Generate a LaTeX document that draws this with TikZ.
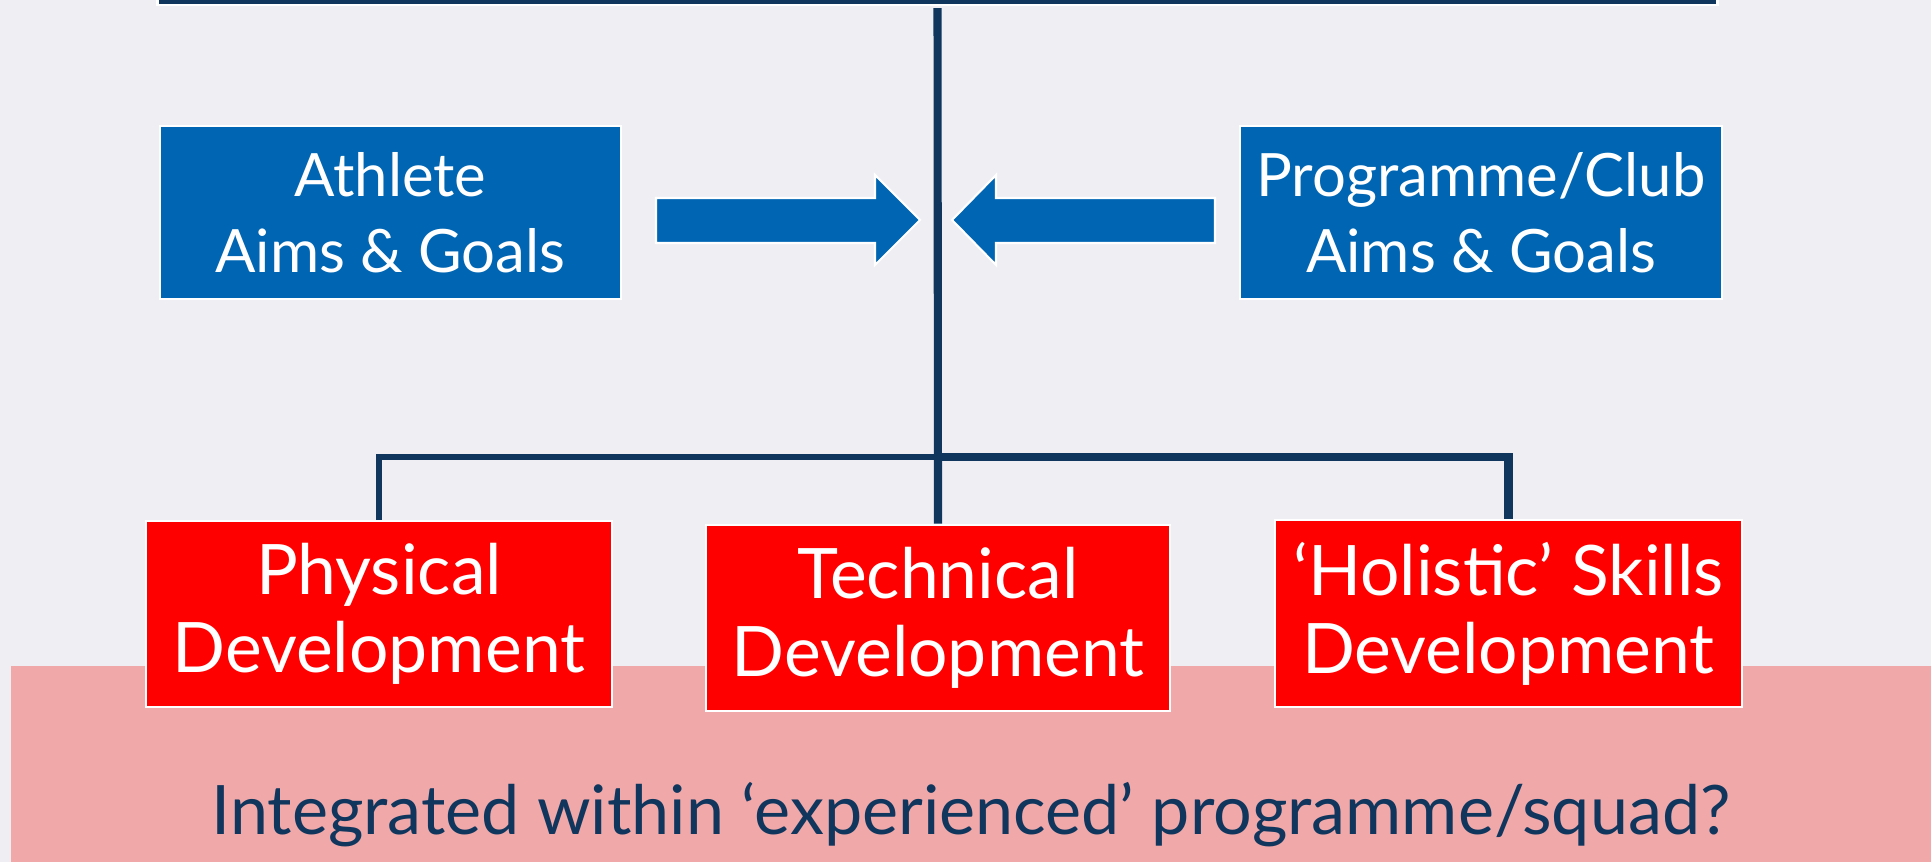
\documentclass[tikz,border=0pt]{standalone}
\usepackage{fontspec}
\setmainfont{Lato}
\usepackage{tikz}

\definecolor{navy}{RGB}{16,54,94}
\definecolor{aimblue}{RGB}{0,102,179}
\definecolor{devred}{RGB}{255,0,0}
\definecolor{bandpink}{RGB}{240,168,168}
\definecolor{paper}{RGB}{239,238,243}

\begin{document}
\begin{tikzpicture}[x=0.01cm,y=-0.01cm,
	aim/.style={fill=aimblue,draw=white,line width=0.6pt,text=white,align=center,
		inner sep=0pt,font=\fontsize{17}{21.6}\selectfont},
	dev/.style={fill=devred,draw=white,line width=0.7pt,text=white,align=center,
		inner sep=0pt,font=\fontsize{19.8}{22.2}\selectfont},
	link/.style={navy,line width=1.7pt},
	trunk/.style={navy,line width=2.3pt},
	blockarrow/.style={fill=aimblue,draw=white,line width=0.6pt}]
			% page and band
			\fill[paper] (0,0) rectangle (1931,862);
			\useasboundingbox (0,0) rectangle (1931,862);
			\fill[bandpink] (11,666) rectangle (1931,862);
			\node[fill=navy,draw=white,line width=0.6pt,minimum width=15.59cm,minimum height=0.16cm,inner sep=0pt] (top) at (937.5,-3) {};
			% aims
			\node[aim,minimum width=4.61cm,minimum height=1.73cm] (athlete) at (390.5,212.5) {Athlete\\Aims \& Goals};
			\node[aim,minimum width=4.82cm,minimum height=1.73cm] (club) at (1481,212.5) {Programme/Club\\Aims \& Goals};
			\draw[blockarrow] (656,198) -- (875,198) -- (875,175) -- (920,220) -- (875,265) -- (875,243) -- (656,243) -- cycle;
			\draw[blockarrow] (1215,198) -- (996,198) -- (996,175) -- (952,220) -- (996,265) -- (996,243) -- (1215,243) -- cycle;
			% development boxes
			\node[dev,minimum width=4.66cm,minimum height=1.86cm] (phys) at (379,614) {Physical\\Development};
			\node[dev,minimum width=4.64cm,minimum height=1.86cm] (tech) at (938,618) {Technical\\Development};
			\node[dev,minimum width=4.67cm,minimum height=1.87cm] (holi) at (1508.5,613.5) {`Holistic' Skills\\Development};
			\coordinate (bus) at (938,457);
			\draw[trunk] ([yshift=-0.6pt]top.south) -- (tech.north);
			\draw[link] (phys.north) |- (bus);
			\draw[trunk] (holi.north) |- (bus);
			\node[text=navy,anchor=base,font=\fontsize{19.4}{24}\selectfont] (note) at (971,835) {Integrated within `experienced' programme/squad?};
		\end{tikzpicture}
\end{document}
